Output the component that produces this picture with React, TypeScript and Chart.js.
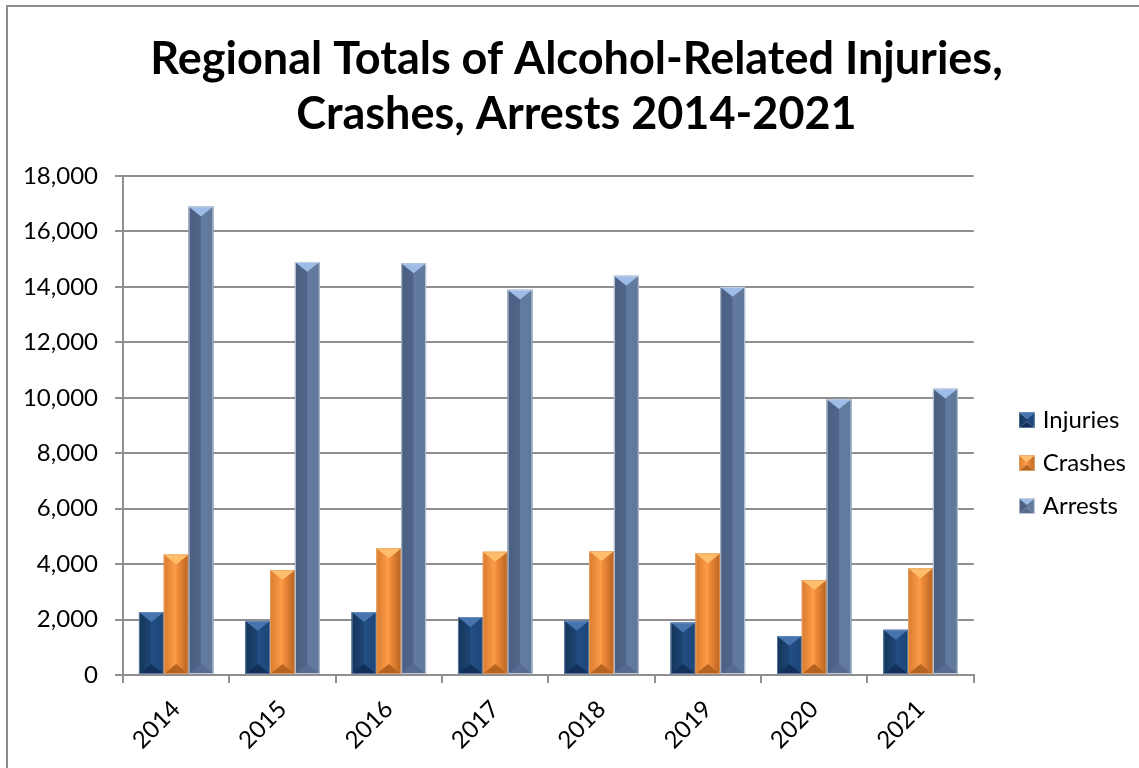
import React, { useEffect, useRef } from 'react';
import { Chart, registerables } from 'chart.js';

Chart.register(...registerables);

const years = ['2014', '2015', '2016', '2017', '2018', '2019', '2020', '2021'];
const injuries = [2270, 1950, 2270, 2090, 1960, 1890, 1410, 1630];
const crashes = [4350, 3790, 4570, 4450, 4470, 4390, 3430, 3850];
const arrests = [16900, 14900, 14850, 13900, 14400, 14000, 9950, 10330];
const seriesNames = ['Injuries', 'Crashes', 'Arrests'];
const yMin = 0;
const yMax = 18000;
const yStep = 2000;
const titleLines = ['Regional Totals of Alcohol-Related Injuries,', 'Crashes, Arrests 2014-2021'];

type Pal = { left1: string; left2: string; right1: string; right2: string; top: string; bottom: string; edge: string; mid: string };
const palettes: Pal[] = [
  { left1: '#143559', left2: '#1E4675', right1: '#234F86', right2: '#1D4576', top: '#4774AE', bottom: '#12305A', edge: 'rgba(120,150,190,0.7)', mid: '#1F4A7E' },
  { left1: '#D97A2E', left2: '#FF9F4A', right1: '#F7923F', right2: '#B8621F', top: '#FFBE6C', bottom: '#B5631F', edge: 'rgba(230,170,110,0.8)', mid: '#F79646' },
  { left1: '#4A5F80', left2: '#50668A', right1: '#637B9E', right2: '#60789A', top: '#9DBDE8', bottom: '#556C90', edge: 'rgba(200,208,222,0.9)', mid: '#5A7194' },
];

function drawBevel(ctx: CanvasRenderingContext2D, L: number, T: number, R: number, B: number, p: Pal) {
  const w = R - L;
  const h = B - T;
  if (w <= 0 || h <= 0) return;
  const cx = (L + R) / 2;
  const d = Math.min(w * 0.4, h / 2);
  ctx.save();
  let g = ctx.createLinearGradient(L, 0, cx, 0);
  g.addColorStop(0, p.left1);
  g.addColorStop(1, p.left2);
  ctx.fillStyle = g;
  ctx.beginPath();
  ctx.moveTo(L, T); ctx.lineTo(cx, T + d); ctx.lineTo(cx, B - d); ctx.lineTo(L, B); ctx.closePath();
  ctx.fill();
  g = ctx.createLinearGradient(cx, 0, R, 0);
  g.addColorStop(0, p.right1);
  g.addColorStop(1, p.right2);
  ctx.fillStyle = g;
  ctx.beginPath();
  ctx.moveTo(R, T); ctx.lineTo(cx, T + d); ctx.lineTo(cx, B - d); ctx.lineTo(R, B); ctx.closePath();
  ctx.fill();
  ctx.fillStyle = p.top;
  ctx.beginPath();
  ctx.moveTo(L, T); ctx.lineTo(R, T); ctx.lineTo(cx, T + d); ctx.closePath();
  ctx.fill();
  ctx.fillStyle = p.bottom;
  ctx.beginPath();
  ctx.moveTo(L, B); ctx.lineTo(R, B); ctx.lineTo(cx, B - d); ctx.closePath();
  ctx.fill();
  ctx.strokeStyle = p.edge;
  ctx.lineWidth = 1;
  ctx.strokeRect(L + 0.5, T + 0.5, w - 1, h - 1);
  ctx.restore();
}

function makeIcon(p: Pal): HTMLCanvasElement {
  const c = document.createElement('canvas');
  c.width = 16; c.height = 16;
  const ctx = c.getContext('2d')!;
  drawBevel(ctx, 0, 0, 16, 16, p);
  return c;
}

const FONT = 'Lato, "Open Sans", sans-serif';

export default function App() {
  const ref = useRef<HTMLCanvasElement | null>(null);
  useEffect(() => {
    document.body.style.margin = '0';
    const canvas = ref.current!;
    const icons = palettes.map(makeIcon);

    const framePlugin = {
      id: 'frame',
      beforeDraw(chart: any) {
        const ctx = chart.ctx;
        ctx.save();
        ctx.fillStyle = '#ffffff';
        ctx.fillRect(0, 0, chart.width, chart.height);
        ctx.fillStyle = '#8c8c8c';
        ctx.fillRect(6, 5, 2, chart.height - 5);
        ctx.fillRect(6, 5, chart.width - 6, 2);
        ctx.restore();
      },
    };

    const bevelPlugin = {
      id: 'bevel',
      afterDatasetsDraw(chart: any) {
        const ctx = chart.ctx;
        chart.data.datasets.forEach((_: any, i: number) => {
          const meta = chart.getDatasetMeta(i);
          meta.data.forEach((el: any) => {
            const { x, y, base, width } = el.getProps(['x', 'y', 'base', 'width'], true);
            drawBevel(ctx, x - width / 2, Math.min(y, base), x + width / 2, Math.max(y, base), palettes[i]);
          });
        });
      },
    };

    const gridColor = '#8f8f8f';
    const chart = new Chart(canvas, {
      type: 'bar',
      data: {
        labels: years,
        datasets: [injuries, crashes, arrests].map((d, i) => ({
          label: seriesNames[i],
          data: d,
          backgroundColor: palettes[i].mid,
          borderWidth: 0,
          categoryPercentage: 0.7,
          barPercentage: 1.0,
        })),
      },
      options: {
        responsive: false,
        animation: false,
        layout: { padding: { left: 17, right: 3, top: 0, bottom: 0 } },
        plugins: {
          tooltip: { enabled: false },
          title: {
            display: true,
            text: titleLines,
            color: '#000',
            font: { family: FONT, size: 45, weight: 'bold', lineHeight: 1.22 },
            padding: { top: 32, bottom: 34.2 },
          },
          legend: {
            position: 'right',
            align: 'center',
            title: { display: true, text: ' ', font: { size: 12, lineHeight: 1 }, padding: { top: 73, bottom: 73 } },
            labels: {
              usePointStyle: true,
              boxWidth: 8,
              color: '#000',
              font: { family: FONT, size: 24 },
              padding: 19,
              generateLabels(ch: any) {
                const items = Chart.defaults.plugins.legend.labels.generateLabels(ch);
                items.forEach((it: any, i: number) => { it.pointStyle = icons[i]; });
                return items;
              },
            },
          },
        },
        scales: {
          x: {
            grid: { display: true, drawOnChartArea: false, offset: true, color: gridColor, lineWidth: 2, tickLength: 8 },
            border: { display: true, color: gridColor, width: 2 },
            ticks: { color: '#000', font: { family: FONT, size: 24 }, maxRotation: 45, minRotation: 45, padding: 12 },
            afterFit: (s: any) => { s.height = 768 - 675; },
          },
          y: {
            min: yMin,
            max: yMax,
            ticks: {
              stepSize: yStep,
              color: '#000',
              font: { family: FONT, size: 24 },
              padding: 17,
              callback: (v: any) => Number(v).toLocaleString('en-US'),
            },
            grid: { color: gridColor, lineWidth: 2, tickLength: 8 },
            border: { display: true, color: gridColor, width: 2 },
            afterFit: (s: any) => { s.width = 123 - 17; },
          },
          y2: {
            position: 'right',
            display: true,
            grid: { display: false },
            border: { display: false },
            ticks: { display: false },
            afterFit: (s: any) => { s.width = 30; },
          },
        },
      },
      plugins: [framePlugin, bevelPlugin],
    } as any);
    return () => chart.destroy();
  }, []);
  return (
    <div style={{ width: 1139, height: 768 }}>
      <canvas ref={ref} width={1139} height={768} style={{ display: 'block' }} />
    </div>
  );
}
